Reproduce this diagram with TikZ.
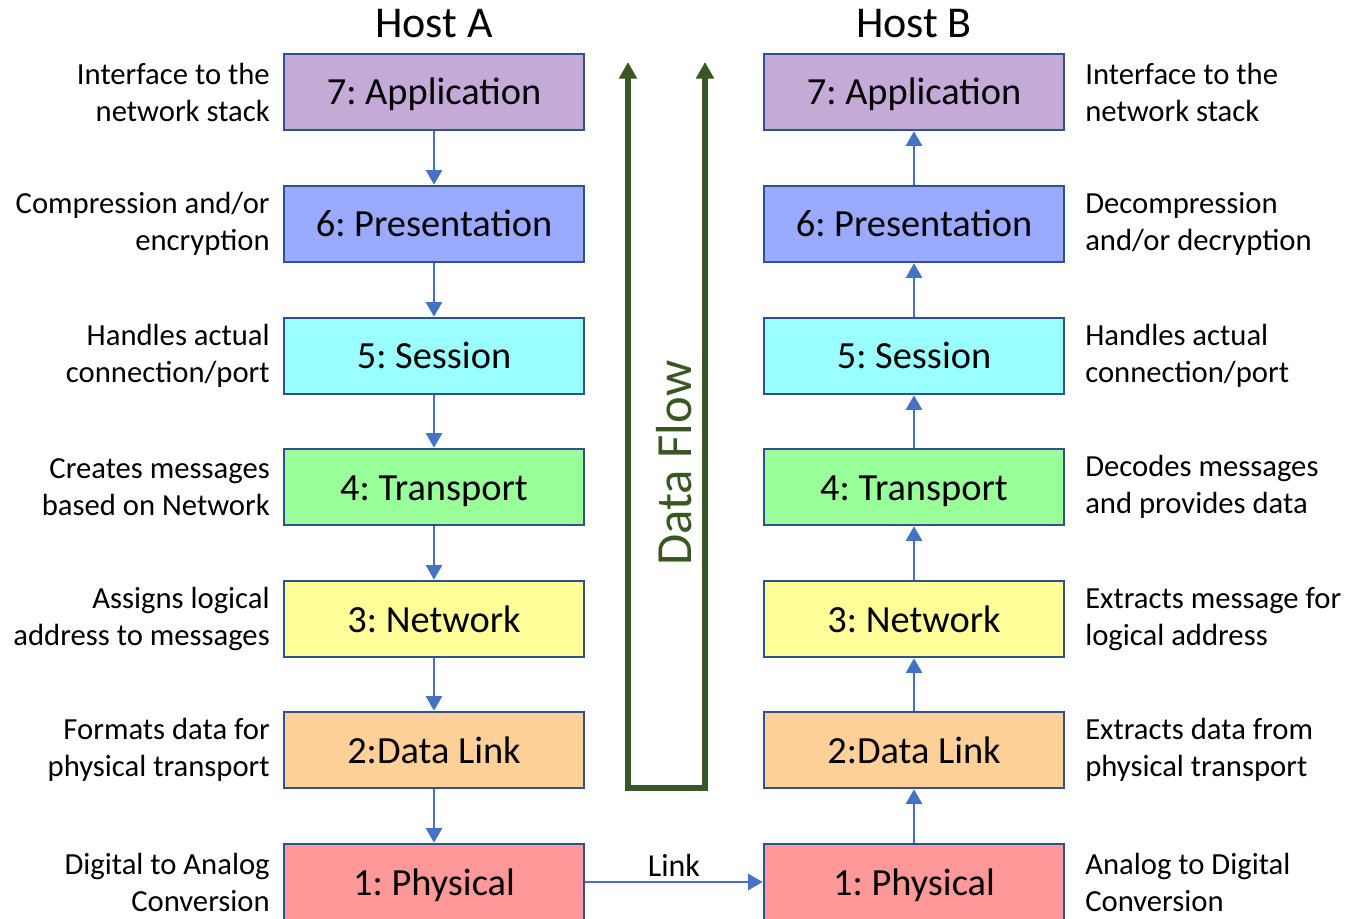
\documentclass[tikz,border=0pt]{standalone}
\usepackage{fontspec}
\setmainfont{Carlito}
\usetikzlibrary{arrows.meta}
\frenchspacing

\definecolor{edgeblue}{HTML}{2F528F}
\definecolor{linkblue}{HTML}{4472C4}
\definecolor{flowgreen}{HTML}{385723}
\definecolor{cApp}{HTML}{C5AAD8}
\definecolor{cPres}{HTML}{99AAFF}
\definecolor{cSess}{HTML}{99FFFF}
\definecolor{cTrans}{HTML}{99FF99}
\definecolor{cNet}{HTML}{FFFF99}
\definecolor{cLink}{HTML}{FFD199}
\definecolor{cPhys}{HTML}{FF9999}

\tikzset{
  layer/.style={draw=edgeblue, line width=1.9pt, minimum width=225pt, minimum height=57pt,
    inner sep=0pt, text height=19.5pt, text depth=0pt, font=\fontsize{28.8}{34}\selectfont},
  hostlbl/.style={font=\fontsize{33}{40}\selectfont, inner sep=0pt},
  leftnote/.style={anchor=east, align=right, inner sep=0pt, font=\fontsize{23}{27.75}\selectfont},
  rightnote/.style={anchor=west, align=left, inner sep=0pt, font=\fontsize{23}{27.75}\selectfont},
  stackarrow/.style={draw=linkblue, line width=2pt, -{Triangle[width=12pt,length=11pt]}},
  flowarrow/.style={draw=flowgreen, line width=4.5pt,
    {Triangle[width=13pt,length=12.5pt]}-{Triangle[width=13pt,length=12.5pt]}}
}

\begin{document}
\begin{tikzpicture}[x=0.75pt, y=-0.75pt]
\useasboundingbox (0,0) rectangle (1348,919);

% column headings
\node[hostlbl] (hostA) at (434,24) {Host A};
\node[hostlbl] (hostB) at (914,24) {Host B};

% protocol layers, sending side
\node[layer, fill=cApp]   (a7) at (434,92)  {7: Application};
\node[layer, fill=cPres]  (a6) at (434,224) {6: Presentation};
\node[layer, fill=cSess]  (a5) at (434,356) {5: Session};
\node[layer, fill=cTrans] (a4) at (434,487) {4: Transport};
\node[layer, fill=cNet]   (a3) at (434,619) {3: Network};
\node[layer, fill=cLink]  (a2) at (434,750) {2:Data Link};
\node[layer, fill=cPhys]  (a1) at (434,882) {1: Physical};

% protocol layers, receiving side
\node[layer, fill=cApp]   (b7) at (914,92)  {7: Application};
\node[layer, fill=cPres]  (b6) at (914,224) {6: Presentation};
\node[layer, fill=cSess]  (b5) at (914,356) {5: Session};
\node[layer, fill=cTrans] (b4) at (914,487) {4: Transport};
\node[layer, fill=cNet]   (b3) at (914,619) {3: Network};
\node[layer, fill=cLink]  (b2) at (914,750) {2:Data Link};
\node[layer, fill=cPhys]  (b1) at (914,882) {1: Physical};

% descriptions, sending side
\node[leftnote] (na7) at (270,92)  {Interface to the\\network stack};
\node[leftnote] (na6) at (270,224) {Compression and/or\\encryption};
\node[leftnote] (na5) at (270,356) {Handles actual\\connection/port};
\node[leftnote] (na4) at (270,487) {Creates messages\\based on Network};
\node[leftnote] (na3) at (270,619) {Assigns logical\\address to messages};
\node[leftnote] (na2) at (270,750) {Formats data for\\physical transport};
\node[leftnote] (na1) at (270,882) {Digital to Analog\\Conversion};

% descriptions, receiving side
\node[rightnote] (nb7) at (1085,92)  {Interface to the\\network stack};
\node[rightnote] (nb6) at (1085,224) {Decompression\\and/or decryption};
\node[rightnote] (nb5) at (1085,356) {Handles actual\\connection/port};
\node[rightnote] (nb4) at (1085,487) {Decodes messages\\and provides data};
\node[rightnote] (nb3) at (1085,619) {Extracts message for\\logical address};
\node[rightnote] (nb2) at (1085,750) {Extracts data from\\physical transport};
\node[rightnote] (nb1) at (1085,882) {Analog to Digital\\Conversion};

% down the sending stack
\draw[stackarrow] (a7) -- (a6);
\draw[stackarrow] (a6) -- (a5);
\draw[stackarrow] (a5) -- (a4);
\draw[stackarrow] (a4) -- (a3);
\draw[stackarrow] (a3) -- (a2);
\draw[stackarrow] (a2) -- (a1);

% up the receiving stack
\draw[stackarrow] (b1) -- (b2);
\draw[stackarrow] (b2) -- (b3);
\draw[stackarrow] (b3) -- (b4);
\draw[stackarrow] (b4) -- (b5);
\draw[stackarrow] (b5) -- (b6);
\draw[stackarrow] (b6) -- (b7);

% physical link between the hosts
\draw[stackarrow] (a1) -- node[above=3pt, inner sep=0pt, font=\fontsize{24}{29}\selectfont] (linklbl) {Link} (b1);

% data flow indicator
\coordinate (fl) at (628,62);
\coordinate (flb) at (628,788);
\coordinate (frb) at (705,788);
\coordinate (fr) at (705,62);
\draw[flowarrow, line join=miter] (fl) -- (flb) -- (frb) -- (fr);
\node[rotate=90, text=flowgreen, inner sep=0pt, font=\fontsize{38}{45}\selectfont] (flow) at (674,463) {Data Flow};
\end{tikzpicture}
\end{document}
